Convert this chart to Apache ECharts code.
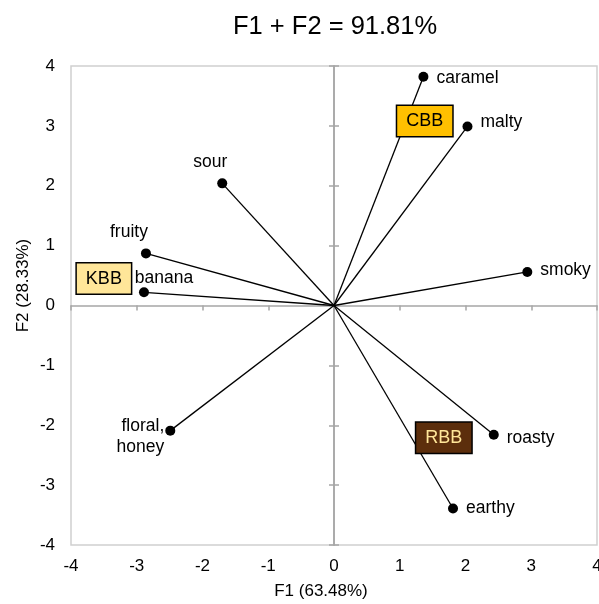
<!DOCTYPE html>
<html>
<head>
<meta charset="utf-8">
<script src="https://cdn.jsdelivr.net/npm/echarts@6/dist/echarts.min.js"></script>
<style>
html,body{margin:0;padding:0;background:#fff;}
#chart{width:599px;height:604px;}
</style>
</head>
<body>
<div id="chart"></div>
<script>
// Attribute vectors (F1, F2)
const pointNames = ['caramel', 'malty', 'sour', 'fruity', 'banana', 'smoky', 'floral,\nhoney', 'roasty', 'earthy'];
const pointF1 = [1.36, 2.03, -1.70, -2.86, -2.89, 2.94, -2.49, 2.43, 1.81];
const pointF2 = [3.82, 2.99, 2.04, 0.87, 0.22, 0.56, -2.09, -2.16, -3.39];

// Product group labels
const groupNames = ['CBB', 'KBB', 'RBB'];
const groupF1 = [1.38, -3.50, 1.67];
const groupF2 = [3.08, 0.45, -2.21];

const titleText = 'F1 + F2 = 91.81%';
const xName = 'F1 (63.48%)';
const yName = 'F2 (28.33%)';

const FONT = '"Liberation Sans", Arial, sans-serif';

// label placement styles (by name)
const labelStyle = {
  'caramel': {position: 'right', distance: 8, offset: [0, 1]},
  'malty': {position: 'right', distance: 8, offset: [0, -4]},
  'sour': {position: 'inside', offset: [-12, -21]},
  'fruity': {position: 'inside', offset: [-17, -21]},
  'banana': {position: 'inside', offset: [20, -14]},
  'smoky': {position: 'right', distance: 8, offset: [0, -2]},
  'floral,\nhoney': {position: 'left', distance: 1, offset: [0, 6], align: 'right'},
  'roasty': {position: 'right', distance: 8, offset: [0, 3]},
  'earthy': {position: 'right', distance: 8, offset: [0, 0]}
};
const groupStyle = {
  'CBB': {bg: '#FFC000', color: '#000'},
  'KBB': {bg: '#FFE699', color: '#000'},
  'RBB': {bg: '#5C2E0C', color: '#FFE699'}
};

const chart = echarts.init(document.getElementById('chart'), null, {renderer: 'canvas'});

const zeroLine = {color: '#a6a6a6', width: 1.5};

const option = {
  animation: false,
  backgroundColor: '#fff',
  title: {
    text: titleText,
    left: 228,
    top: 9,
    textStyle: {fontFamily: FONT, fontSize: 25.5, fontWeight: 'normal', color: '#000'}
  },
  grid: {
    left: 71, right: 2, top: 66, bottom: 59,
    outerBoundsMode: 'none',
    containLabel: false,
    show: true, borderColor: '#d0d0d0', borderWidth: 1.5, backgroundColor: 'transparent'
  },
  xAxis: [
    {
      type: 'value', min: -4, max: 4, interval: 1, position: 'bottom',
      axisLine: {show: false, onZero: false},
      axisTick: {show: false},
      splitLine: {show: false},
      axisLabel: {margin: 13, fontSize: 17, fontFamily: FONT, color: '#000'},
      name: xName, nameLocation: 'middle', nameGap: 38, nameMoveOverlap: false,
      nameTextStyle: {fontSize: 17, fontFamily: FONT, color: '#000', padding: [0, 26, 0, 0]}
    },
    {
      type: 'value', min: -4, max: 4, interval: 1, position: 'bottom',
      axisLine: {show: true, onZero: true, lineStyle: zeroLine},
      axisTick: {show: true, length: 5, inside: false, lineStyle: zeroLine},
      splitLine: {show: false},
      axisLabel: {show: false}
    }
  ],
  yAxis: [
    {
      type: 'value', min: -4, max: 4, interval: 1, position: 'left',
      axisLine: {show: false, onZero: false},
      axisTick: {show: false},
      splitLine: {show: false},
      axisLabel: {margin: 16, fontSize: 17, fontFamily: FONT, color: '#000'},
      name: yName, nameLocation: 'middle', nameGap: 39, nameMoveOverlap: false,
      nameTextStyle: {fontSize: 17, fontFamily: FONT, color: '#000', padding: [0, 0, 0, 40]}
    },
    {
      type: 'value', min: -4, max: 4, interval: 1, position: 'left',
      axisLine: {show: true, onZero: true, lineStyle: zeroLine},
      axisTick: {show: true, length: 5, inside: false, lineStyle: zeroLine},
      splitLine: {show: false},
      axisLabel: {show: false}
    },
    {
      type: 'value', min: -4, max: 4, interval: 1, position: 'right',
      axisLine: {show: true, onZero: true, lineStyle: zeroLine},
      axisTick: {show: true, length: 5, inside: false, lineStyle: zeroLine},
      splitLine: {show: false},
      axisLabel: {show: false}
    }
  ],
  series: [
    {
      type: 'lines',
      coordinateSystem: 'cartesian2d',
      xAxisIndex: 0, yAxisIndex: 0,
      silent: true,
      z: 3,
      lineStyle: {color: '#000', width: 1.3, opacity: 1},
      data: pointNames.map((n, i) => ({coords: [[0, 0], [pointF1[i], pointF2[i]]]}))
    },
    {
      type: 'scatter',
      xAxisIndex: 0, yAxisIndex: 0,
      symbol: 'circle',
      symbolSize: 10,
      z: 4,
      itemStyle: {color: '#000', opacity: 1},
      data: pointNames.map((n, i) => {
        const s = labelStyle[n];
        return {
          name: n,
          value: [pointF1[i], pointF2[i]],
          label: Object.assign({
            show: true,
            formatter: n,
            fontSize: 17.5,
            fontFamily: FONT,
            color: '#000',
            lineHeight: 21
          }, s)
        };
      })
    },
    {
      type: 'scatter',
      xAxisIndex: 0, yAxisIndex: 0,
      symbol: 'rect',
      symbolSize: 1,
      z: 5,
      itemStyle: {color: 'rgba(0,0,0,0)', opacity: 1},
      data: groupNames.map((n, i) => ({
        name: n,
        value: [groupF1[i], groupF2[i]],
        label: {
          show: true,
          opacity: 1,
          position: 'inside',
          formatter: n,
          fontSize: 18,
          fontFamily: FONT,
          color: groupStyle[n].color,
          backgroundColor: groupStyle[n].bg,
          borderColor: '#000',
          borderWidth: 1.5,
          padding: [5, 9, 5, 9],
          lineHeight: 20
        }
      }))
    }
  ]
};

chart.setOption(option);
</script>
</body>
</html>
